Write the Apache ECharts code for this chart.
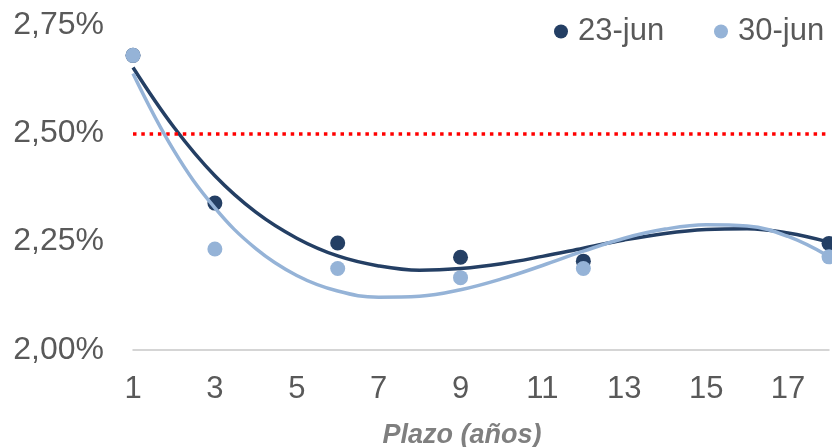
<!DOCTYPE html>
<html>
<head>
<meta charset="utf-8">
<script src="https://cdn.jsdelivr.net/npm/echarts@6/dist/echarts.min.js"></script>
<style>
  html, body { margin: 0; padding: 0; background: #ffffff; }
  #chart { width: 832px; height: 447px; }
</style>
</head>
<body>
<div id="chart"></div>
<script>
// Plazos (años) y tasas observadas (%)
const plazos = [1, 3, 6, 9, 12, 18];
const tasas23jun = [2.680, 2.339, 2.247, 2.214, 2.205, 2.246];
const tasas30jun = [2.680, 2.233, 2.188, 2.167, 2.188, 2.215];

const plazosTendencia = [1, 2, 3, 4, 5, 6, 7, 8, 9, 10, 11, 12, 13, 14, 15, 16, 17, 18];
const tendencia23jun = [2.652, 2.514, 2.402, 2.318, 2.258, 2.217, 2.194, 2.184, 2.188, 2.199, 2.216, 2.235, 2.254, 2.269, 2.278, 2.280, 2.270, 2.249];
const tendencia30jun = [2.638, 2.460, 2.328, 2.234, 2.172, 2.136, 2.122, 2.124, 2.139, 2.164, 2.195, 2.228, 2.258, 2.279, 2.289, 2.286, 2.262, 2.216];

// Nivel de referencia
const referencia = 2.50;

const serieNombres = ['23-jun', '30-jun'];
const ticksX = [1, 3, 5, 7, 9, 11, 13, 15, 17];
const tituloX = 'Plazo (años)';

const colorOscuro = '#243F64';
const colorClaro = '#95B3D7';
const fuente = '"Liberation Sans", Arial, sans-serif';

const pares = (xs, ys) => xs.map((x, i) => [x, ys[i]]);

// Una leyenda por serie, para mantener ambas en una sola fila
const leyenda = (nombre, izquierda) => ({
  data: [nombre],
  left: izquierda,
  top: 11,
  icon: 'circle',
  itemWidth: 14,
  itemHeight: 14,
  textStyle: { fontSize: 31, color: '#595959', fontFamily: fuente, padding: [0, 0, 0, 5] }
});

const chart = echarts.init(document.getElementById('chart'));
chart.setOption({
  animation: false,
  backgroundColor: '#ffffff',
  textStyle: { fontFamily: fuente },
  grid: { left: 133, right: 0, top: 25, bottom: 97, containLabel: false },
  legend: [leyenda(serieNombres[0], 549), leyenda(serieNombres[1], 709)],
  xAxis: {
    type: 'value',
    min: 1,
    max: 18,
    interval: 1,
    axisLine: { show: true, lineStyle: { color: '#C8C8C8', width: 1.5 } },
    axisTick: { show: false },
    splitLine: { show: false },
    axisLabel: {
      fontSize: 31,
      color: '#595959',
      margin: 24,
      fontFamily: fuente,
      formatter: v => (ticksX.indexOf(v) >= 0 ? String(v) : '')
    }
  },
  yAxis: {
    type: 'value',
    min: 2.00,
    max: 2.75,
    interval: 0.25,
    axisLine: { show: false },
    axisTick: { show: false },
    splitLine: { show: false },
    axisLabel: {
      fontSize: 32,
      color: '#595959',
      margin: 29,
      fontFamily: fuente,
      padding: [3, 0, 0, 0],
      formatter: v => v.toFixed(2).replace('.', ',') + '%'
    }
  },
  graphic: [{
    type: 'text',
    x: 462,
    y: 436,
    style: {
      text: tituloX,
      font: 'italic bold 27px ' + fuente,
      fill: '#7F7F7F',
      align: 'center',
      verticalAlign: 'middle'
    }
  }],
  series: [
    {
      name: serieNombres[0],
      type: 'scatter',
      data: pares(plazos, tasas23jun),
      symbolSize: 15,
      itemStyle: { color: colorOscuro, opacity: 1 },
      z: 2,
      markLine: {
        silent: true,
        symbol: 'none',
        label: { show: false },
        lineStyle: { color: '#FF0000', width: 3.5, type: [3.5, 4.8] },
        data: [{ yAxis: referencia }]
      }
    },
    {
      name: serieNombres[1],
      type: 'scatter',
      data: pares(plazos, tasas30jun),
      symbolSize: 15,
      itemStyle: { color: colorClaro, opacity: 1 },
      z: 3
    },
    {
      name: 'tendencia-23',
      type: 'line',
      data: pares(plazosTendencia, tendencia23jun),
      smooth: 0.4,
      showSymbol: false,
      lineStyle: { color: colorOscuro, width: 3.5 },
      z: 4
    },
    {
      name: 'tendencia-30',
      type: 'line',
      data: pares(plazosTendencia, tendencia30jun),
      smooth: 0.4,
      showSymbol: false,
      lineStyle: { color: colorClaro, width: 3.5 },
      z: 5
    }
  ]
});
</script>
</body>
</html>
